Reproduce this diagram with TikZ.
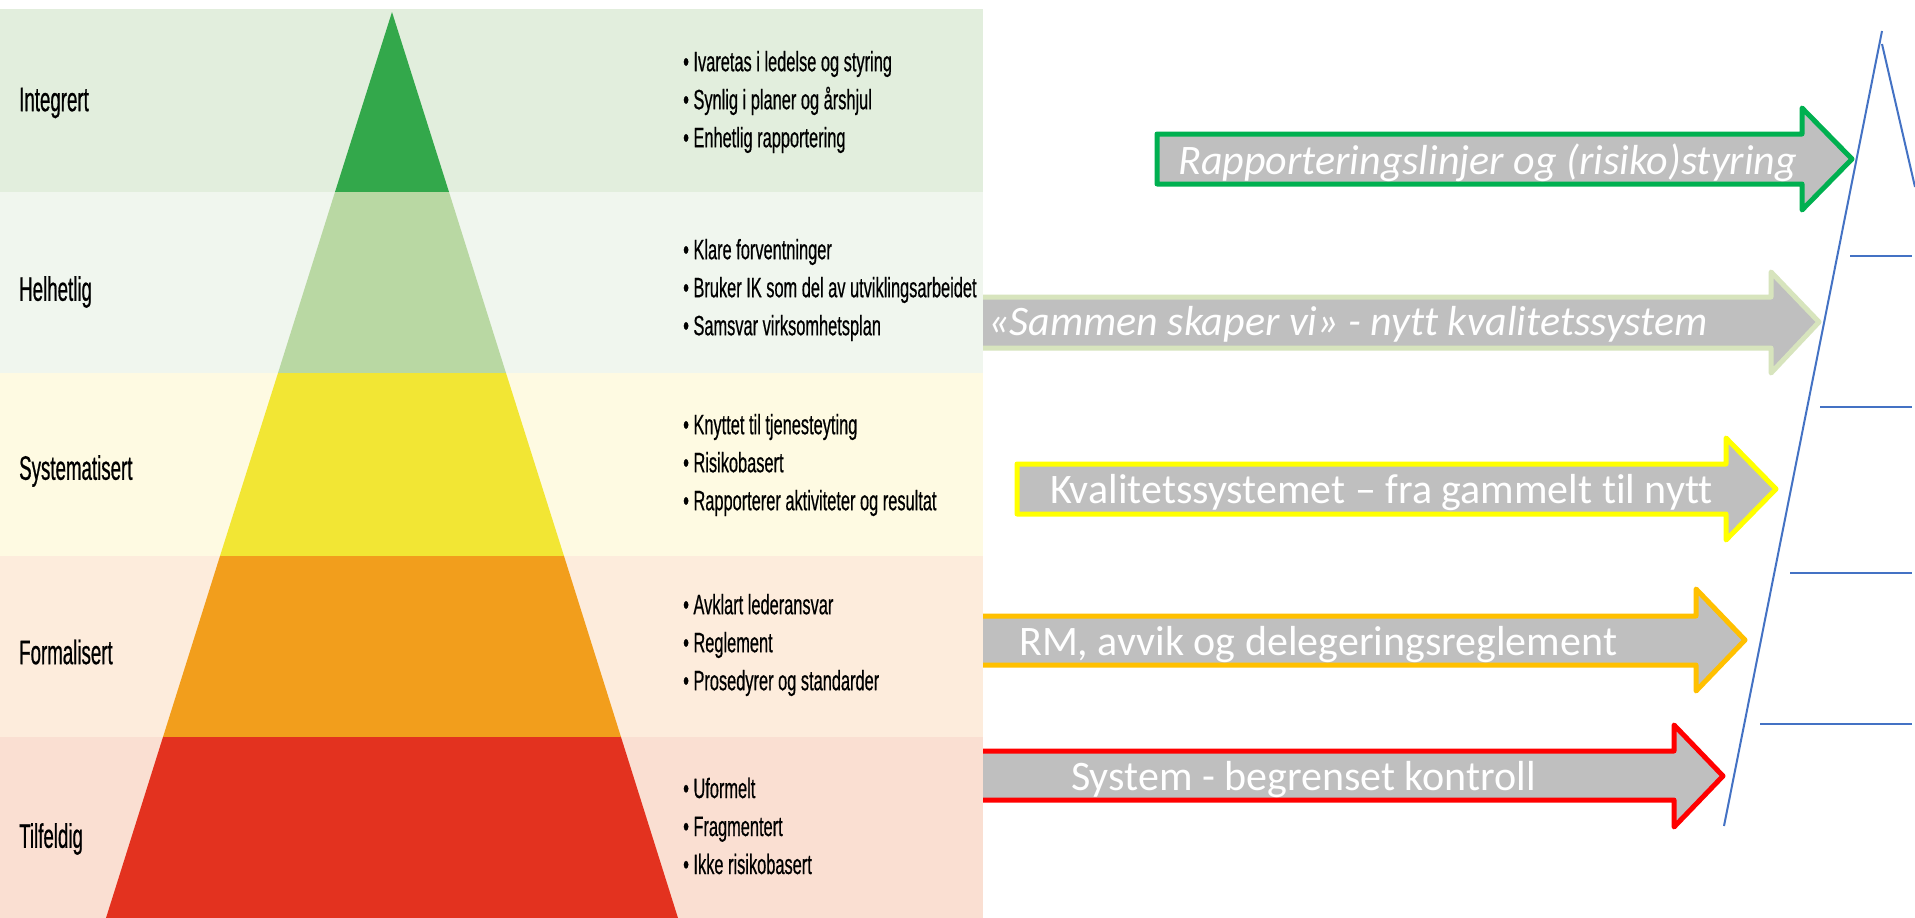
\documentclass[tikz,border=0pt]{standalone}
\usepackage{fontspec}
\setmainfont{Carlito}[Ligatures=NoCommon]
\newfontfamily\lvlfont[FakeStretch=0.55,FakeBold=0.6]{Liberation Sans}
\newfontfamily\ptfont[FakeStretch=0.585,FakeBold=0.5]{Liberation Sans}
\usepackage{tikz}
\definecolor{bandint}{HTML}{E2EEDD}
\definecolor{bandhel}{HTML}{F0F6EE}
\definecolor{bandsys}{HTML}{FEFAE2}
\definecolor{bandfor}{HTML}{FDECDC}
\definecolor{bandtil}{HTML}{FADFD2}
\definecolor{pyrint}{HTML}{33A84B}
\definecolor{pyrhel}{HTML}{B9D8A3}
\definecolor{pyrsys}{HTML}{F2E634}
\definecolor{pyrfor}{HTML}{F29E1C}
\definecolor{pyrtil}{HTML}{E3321F}
\definecolor{arrowgray}{HTML}{BFBFBF}
\definecolor{edgegreen}{HTML}{00B050}
\definecolor{edgesage}{HTML}{D7E4BD}
\definecolor{edgeyellow}{HTML}{FFFF00}
\definecolor{edgeorange}{HTML}{FFC000}
\definecolor{edgered}{HTML}{FF0000}
\definecolor{outlineblue}{HTML}{4472C4}
\tikzset{
  lvl/.style={anchor=west, inner sep=0pt, font=\lvlfont\fontsize{34}{40}\selectfont},
  pts/.style={anchor=west, inner sep=0pt, align=left, font=\ptfont\fontsize{28}{38}\selectfont},
  blockarrow/.style={fill=arrowgray, line width=5pt, line join=round},
  arrtxt/.style={anchor=base west, inner sep=0pt, text=white, font=\fontsize{42}{50}\selectfont},
  slanted/.style={arrtxt, font=\itshape\fontsize{42}{50}\selectfont},
  outline/.style={draw=outlineblue, line width=2pt},
}

\begin{document}
\begin{tikzpicture}[x=1pt,y=-1pt]
\useasboundingbox[fill=white] (0,0) rectangle (1915,918);

% block arrows (left ends go under the panel)
\draw[blockarrow,draw=edgegreen] (1157,134) -- (1802,134) -- (1802,108) -- (1852,159) -- (1802,210) -- (1802,184) -- (1157,184) -- cycle;
\draw[blockarrow,draw=edgesage] (950,297) -- (1771,297) -- (1771,272) -- (1819,322) -- (1771,373) -- (1771,348) -- (950,348) -- cycle;
\draw[blockarrow,draw=edgeyellow] (1017,464) -- (1726,464) -- (1726,438) -- (1776,489) -- (1726,540) -- (1726,514) -- (1017,514) -- cycle;
\draw[blockarrow,draw=edgeorange] (950,616) -- (1696,616) -- (1696,589) -- (1745,640) -- (1696,691) -- (1696,665) -- (950,665) -- cycle;
\draw[blockarrow,draw=edgered] (950,751) -- (1674,751) -- (1674,725) -- (1723,776) -- (1674,827) -- (1674,800) -- (950,800) -- cycle;

% panel bands
\fill[bandint] (0,9) rectangle (983,192);
\fill[bandhel] (0,192) rectangle (983,373);
\fill[bandsys] (0,373) rectangle (983,556);
\fill[bandfor] (0,556) rectangle (983,737);
\fill[bandtil] (0,737) rectangle (983,918);

% pyramid
\fill[pyrint] (392,12) -- (449,192) -- (335,192) -- cycle;
\fill[pyrhel] (335,192) -- (449,192) -- (506,373) -- (278,373) -- cycle;
\fill[pyrsys] (278,373) -- (506,373) -- (564,556) -- (220,556) -- cycle;
\fill[pyrfor] (220,556) -- (564,556) -- (621,737) -- (163,737) -- cycle;
\fill[pyrtil] (163,737) -- (621,737) -- (678,918) -- (106,918) -- cycle;

% levels
\node[lvl] (integrert) at (19,103) {Integrert};
\node[lvl] (helhetlig) at (19,292) {Helhetlig};
\node[lvl] (systematisert) at (19,471) {Systematisert};
\node[lvl] (formalisert) at (19,652) {Formalisert};
\node[lvl] (tilfeldig) at (19,839) {Tilfeldig};

\node[pts] (ptint) at (683,102) {• Ivaretas i ledelse og styring\\• Synlig i planer og årshjul\\• Enhetlig rapportering};
\node[pts] (pthel) at (683,290) {• Klare forventninger\\• Bruker IK som del av utviklingsarbeidet\\• Samsvar virksomhetsplan};
\node[pts] (ptsys) at (683,465) {• Knyttet til tjenesteyting\\• Risikobasert\\• Rapporterer aktiviteter og resultat};
\node[pts] (ptfor) at (683,645) {• Avklart lederansvar\\• Reglement\\• Prosedyrer og standarder};
\node[pts] (pttil) at (683,826) {• Uformelt\\• Fragmentert\\• Ikke risikobasert};

% arrow texts
\node[slanted] (rapport) at (1178,174) {Rapporteringslinjer og (risiko)styring};
\node[slanted] (sammen) at (988,335) {«Sammen skaper vi» - nytt kvalitetssystem};
\node[arrtxt] (kvalitet) at (1050,503) {Kvalitetssystemet – fra gammelt til nytt};
\node[arrtxt] (avvik) at (1019,655) {RM, avvik og delegeringsreglement};
\node[arrtxt] (system) at (1071,790) {System - begrenset kontroll};

% outline pyramid
\draw[outline] (1882,31) -- (1724,826);
\draw[outline] (1882,44) -- (1915,187);
\draw[outline] (1850,256) -- (1912,256);
\draw[outline] (1820,407) -- (1912,407);
\draw[outline] (1790,573) -- (1912,573);
\draw[outline] (1760,724) -- (1912,724);
\end{tikzpicture}
\end{document}
